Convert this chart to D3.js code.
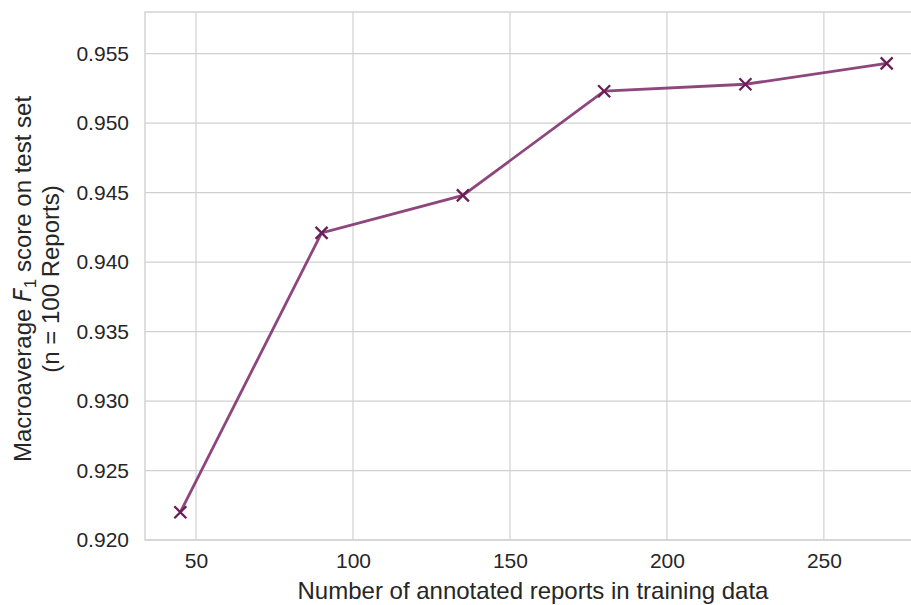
<!DOCTYPE html>
<html><head><meta charset="utf-8">
<script src="https://cdn.jsdelivr.net/npm/d3@7"></script>
<style>body{margin:0;background:#fff}svg{display:block}</style>
</head><body>
<svg id="c" width="911" height="605"></svg>
<script>
const xValues = [45, 90, 135, 180, 225, 270];
const f1Scores = [0.9220, 0.9421, 0.9448, 0.9523, 0.9528, 0.9543];
const xTicks = [50, 100, 150, 200, 250];
const yTicks = [0.920, 0.925, 0.930, 0.935, 0.940, 0.945, 0.950, 0.955];
const xLabel = "Number of annotated reports in training data";

(function () {
const svg = d3.select("#c");
const pl = 145, pt = 12, pb = 540, pr = 922;
const x = d3.scaleLinear().domain([33.75, 281.25]).range([pl, pr]);
const y = d3.scaleLinear().domain([0.920, 0.958]).range([pb, pt]);
const font = "'Liberation Sans', Arial, sans-serif";
const grid = "#d0d0d0";

const g = svg.append("g");
g.selectAll(".vg").data(xTicks).join("line")
  .attr("x1", d => x(d)).attr("x2", d => x(d)).attr("y1", pt).attr("y2", pb)
  .attr("stroke", grid).attr("stroke-width", 1.2);
g.selectAll(".hg").data(yTicks).join("line")
  .attr("x1", pl).attr("x2", pr).attr("y1", d => y(d)).attr("y2", d => y(d))
  .attr("stroke", grid).attr("stroke-width", 1.2);
g.append("rect").attr("x", pl).attr("y", pt).attr("width", pr - pl).attr("height", pb - pt)
  .attr("fill", "none").attr("stroke", grid).attr("stroke-width", 1.4);

const xAxis = d3.axisBottom(x).tickValues(xTicks).tickSize(0).tickPadding(13).tickFormat(d3.format("d"));
const xa = svg.append("g").attr("transform", `translate(0,${pb})`).call(xAxis);
xa.select(".domain").remove();
xa.selectAll("text").attr("font-family", font).attr("font-size", 21).attr("fill", "#262626");

const yAxis = d3.axisLeft(y).tickValues(yTicks).tickSize(0).tickPadding(16).tickFormat(d3.format(".3f"));
const ya = svg.append("g").attr("transform", `translate(${pl},0)`).call(yAxis);
ya.select(".domain").remove();
ya.selectAll("text").attr("font-family", font).attr("font-size", 21).attr("fill", "#262626");

const color = "#7a2766";
const pts = xValues.map((v, i) => [v, f1Scores[i]]);
svg.append("path").datum(pts)
  .attr("d", d3.line().x(d => x(d[0])).y(d => y(d[1])))
  .attr("fill", "none").attr("stroke", color).attr("stroke-opacity", 0.85).attr("stroke-width", 2.8);
const s = 6;
const mk = svg.append("g").selectAll("g").data(pts).join("g")
  .attr("transform", d => `translate(${x(d[0])},${y(d[1])})`);
mk.append("path").attr("d", `M${-s},${-s}L${s},${s}M${-s},${s}L${s},${-s}`)
  .attr("stroke", "#6c1d58").attr("stroke-width", 2.3).attr("fill", "none");

svg.append("text").attr("x", 533).attr("y", 599).attr("text-anchor", "middle")
  .attr("font-family", font).attr("font-size", 24).attr("fill", "#262626").text(xLabel);

const cy = 279;
const yl = svg.append("text").attr("transform", `translate(31,${cy}) rotate(-90)`)
  .attr("text-anchor", "middle").attr("font-family", font).attr("font-size", 24).attr("fill", "#262626");
yl.append("tspan").text("Macroaverage ");
yl.append("tspan").attr("font-family", "'DejaVu Sans', sans-serif").attr("font-style", "italic").text("F");
yl.append("tspan").attr("font-size", 17).attr("dy", 5).text("1");
yl.append("tspan").attr("dy", -5).text("  score on test set");
svg.append("text").attr("transform", `translate(59,${cy}) rotate(-90)`)
  .attr("text-anchor", "middle").attr("font-family", font).attr("font-size", 24).attr("fill", "#262626")
  .text("(n = 100 Reports)");
})();
</script>
</body></html>
